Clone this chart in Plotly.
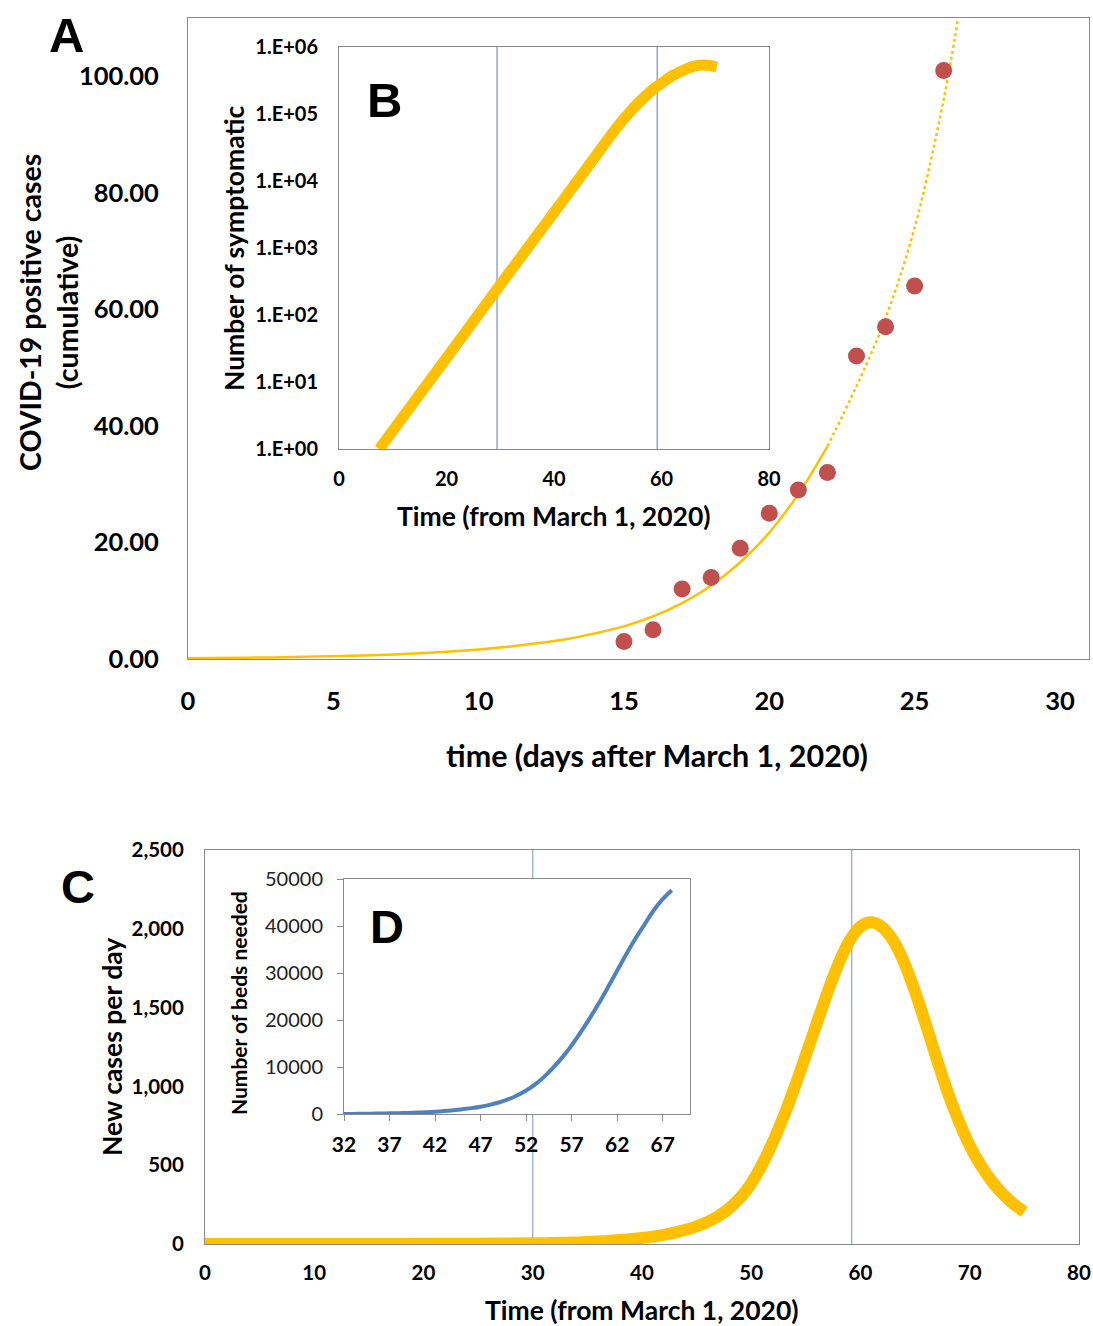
import plotly.graph_objects as go

W, H = 1093, 1326

# ---------------- data ----------------
# Panel A: observed cumulative positive cases
A_days = [15, 16, 17, 18, 19, 20, 21, 22, 23, 24, 25, 26]
A_cases = [3, 5, 12, 14, 19, 25, 29, 32, 52, 57, 64, 101]
# Panel A: exponential trend line (solid part, then dotted forecast part)
A_fit_days = [0, 2, 4, 6, 8, 10, 11, 12, 13, 14, 15, 16, 17, 18, 19, 20, 21, 22]
A_fit_vals = [0.13, 0.22, 0.37, 0.6, 1.0, 1.65, 2.1, 2.7, 3.4, 4.4, 5.6, 7.3, 9.6, 12.6, 16.6, 21.7, 28.3, 36.5]
A_fc_days = [22, 23, 24, 25, 26, 26.5]
A_fc_vals = [36.5, 46.8, 58.5, 74, 96, 110]

# Panel B: number of symptomatic (log scale)
B_days = [7.5, 20, 30, 40, 48, 50, 52, 54, 56, 58, 60, 62, 64, 66, 68, 70.3]
B_symptomatic = [1, 22.9, 282, 3390, 25100, 41700, 67600, 105000, 155000, 219000, 288000, 372000,
                 447000, 513000, 537000, 501000]
B_vlines = [29.4, 59.2]
B_yticks = [1, 10, 100, 1000, 10000, 100000, 1000000]
B_yticklabels = ["1.E+00", "1.E+01", "1.E+02", "1.E+03", "1.E+04", "1.E+05", "1.E+06"]

# Panel C: new cases per day
C_days = [0, 5, 10, 15, 20, 25, 30, 31, 32, 33, 34, 35, 36, 37, 38, 39, 40, 41, 42, 43, 44, 45, 46, 47,
          48, 49, 50, 51, 52, 53, 54, 55, 56, 57, 58, 59, 60, 61, 62, 63, 64, 65, 66, 67, 68, 69, 70,
          71, 72, 73, 74, 75]
C_new = [0, 0, 0, 0.3, 0.8, 2, 4, 5, 6.5, 8, 10, 13, 16, 20, 25, 31, 38, 47, 58, 72, 90, 112, 140, 178,
         228, 295, 385, 505, 650, 815, 1000, 1200, 1400, 1600, 1780, 1925, 2015, 2042, 2010, 1925, 1785,
         1600, 1390, 1170, 960, 780, 625, 500, 400, 320, 255, 205]
C_vlines = [30.0, 59.2]

# Panel D: number of beds needed
D_days = [32, 33, 34, 35, 36, 37, 38, 39, 40, 41, 42, 43, 44, 45, 46, 47, 48, 49, 50, 51, 52, 53, 54,
          55, 56, 57, 58, 59, 60, 61, 62, 63, 64, 65, 66, 67, 68]
D_beds = [0, 20, 45, 70, 100, 135, 180, 235, 300, 385, 490, 630, 800, 1000, 1250, 1550, 1950, 2450,
          3100, 3950, 5000, 6300, 7950, 9900, 12100, 14600, 17400, 20400, 23600, 27000, 30500, 34000,
          37300, 40300, 43300, 45700, 47600]

# ---------------- styles ----------------
YELLOW = "#FFC000"
RED = "#C0504D"
BLUE = "#4F81BD"
VB = "#7090CC"
VC = "#8CA6CA"
BORDER = "#8A8A8A"
FONT = "Lato"
LETTER_FONT = "Liberation Sans"


def X(px):
    return px / W


def Y(py):
    return 1 - py / H


fig = go.Figure()

# Panel A
fig.add_trace(go.Scatter(x=A_fit_days, y=A_fit_vals, mode="lines", line=dict(color=YELLOW, width=2.5, shape="spline"),
                         xaxis="x", yaxis="y"))
fig.add_trace(go.Scatter(x=A_fc_days, y=A_fc_vals, mode="lines",
                         line=dict(color=YELLOW, width=2.5, dash="dot", shape="spline"), xaxis="x", yaxis="y"))
fig.add_trace(go.Scatter(x=A_days, y=A_cases, mode="markers", marker=dict(color=RED, size=17),
                         xaxis="x", yaxis="y"))

# Panel B
for v in B_vlines:
    fig.add_trace(go.Scatter(x=[v, v], y=[1, 1000000], mode="lines", line=dict(color=VB, width=1.2),
                             xaxis="x2", yaxis="y2"))
fig.add_trace(go.Scatter(x=B_days, y=B_symptomatic, mode="lines", line=dict(color=YELLOW, width=11, shape="spline"),
                         xaxis="x2", yaxis="y2"))

# Panel C
for v in C_vlines:
    fig.add_trace(go.Scatter(x=[v, v], y=[0, 2500], mode="lines", line=dict(color=VC, width=1.2),
                             xaxis="x3", yaxis="y3"))
fig.add_trace(go.Scatter(x=C_days, y=C_new, mode="lines", line=dict(color=YELLOW, width=12, shape="spline"),
                         xaxis="x3", yaxis="y3", cliponaxis=False))

# Panel D
fig.add_trace(go.Scatter(x=D_days, y=D_beds, mode="lines", line=dict(color=BLUE, width=4, shape="spline"),
                         xaxis="x4", yaxis="y4"))

common = dict(showgrid=False, zeroline=False, showline=True, mirror=True, linecolor=BORDER, linewidth=1,
              automargin=False)

fig.update_layout(
    width=W, height=H, margin=dict(l=0, r=0, t=0, b=0, pad=0, autoexpand=False),
    paper_bgcolor="white", plot_bgcolor="white", showlegend=False,
    xaxis=dict(domain=[X(188), X(1089)], anchor="y", range=[0, 31], tickvals=[0, 5, 10, 15, 20, 25, 30],
               ticks="", ticklabelstandoff=19,
               tickfont=dict(family=FONT, size=25.5, color="black", weight="bold"), **common),
    yaxis=dict(domain=[Y(659), Y(18)], anchor="x", range=[0, 110], tickvals=[0, 20, 40, 60, 80, 100],
               tickformat=".2f", ticks="", ticklabelstandoff=23,
               tickfont=dict(family=FONT, size=25.5, color="black", weight="bold"), **common),
    xaxis2=dict(domain=[X(339), X(769)], anchor="y2", range=[0, 80], tickvals=[0, 20, 40, 60, 80],
                ticks="", ticklabelstandoff=12,
                tickfont=dict(family=FONT, size=20, color="black", weight="bold"), **common),
    yaxis2=dict(domain=[Y(449), Y(47)], anchor="x2", type="log", range=[0, 6], tickvals=B_yticks,
                ticktext=B_yticklabels, ticks="", ticklabelstandoff=16,
                tickfont=dict(family=FONT, size=20, color="black", weight="bold"), **common),
    xaxis3=dict(domain=[X(205), X(1079)], anchor="y3", range=[0, 80], tickvals=[0, 10, 20, 30, 40, 50, 60, 70, 80],
                ticks="", ticklabelstandoff=10,
                tickfont=dict(family=FONT, size=20.5, color="black", weight="bold"), **common),
    yaxis3=dict(domain=[Y(1244), Y(850)], anchor="x3", range=[0, 2500], tickvals=[0, 500, 1000, 1500, 2000, 2500],
                tickformat=",d", ticks="", ticklabelstandoff=16,
                tickfont=dict(family=FONT, size=20.5, color="black", weight="bold"), **common),
    xaxis4=dict(domain=[X(344), X(690)], anchor="y4", range=[32, 70], tickvals=[32, 37, 42, 47, 52, 57, 62, 67],
                ticks="outside", ticklen=6, tickcolor=BORDER, ticklabelstandoff=6,
                tickfont=dict(family=FONT, size=21, color="black", weight="bold"), **common),
    yaxis4=dict(domain=[Y(1114), Y(879)], anchor="x4", range=[0, 50000], tickvals=[0, 10000, 20000, 30000, 40000, 50000],
                tickformat="d", ticks="outside", ticklen=6, tickcolor=BORDER, ticklabelstandoff=10,
                tickfont=dict(family=FONT, size=20, color="#222222"), **common),
)


def ann(text, px, py, size, angle=0, family=FONT, weight="bold"):
    fig.add_annotation(text=text, x=X(px), y=Y(py), xref="paper", yref="paper", showarrow=False,
                       xanchor="center", yanchor="middle", textangle=angle,
                       font=dict(family=family, size=size, color="black", weight=weight))


# panel letters
ann("A", 66, 35, 49, family=LETTER_FONT)
ann("B", 384, 100, 49, family=LETTER_FONT)
ann("C", 78, 886, 47, family=LETTER_FONT)
ann("D", 387, 926, 47, family=LETTER_FONT)

# axis titles
ann("time (days after March 1, 2020)", 657, 755, 30.5)
ann("COVID-19 positive cases<br>(cumulative)", 48, 313, 28.5, angle=-90)
ann("Time (from March 1, 2020)", 554, 516, 26.5)
ann("Number of symptomatic", 234, 248, 26.5, angle=-90)
ann("Time (from March 1, 2020)", 642, 1310, 26.5)
ann("New cases per day", 112, 1047, 26.5, angle=-90)
ann("Number of beds needed", 238, 1003, 21, angle=-90)

fig.write_html("out.html", post_script="document.body.style.margin='0';document.body.style.padding='0';")
